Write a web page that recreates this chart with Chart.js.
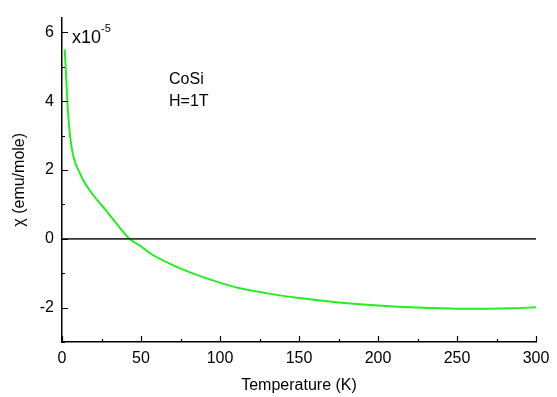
<!DOCTYPE html>
<html lang="en">
<head>
  <meta charset="UTF-8">
  <title>CoSi susceptibility</title>
  <script src="https://cdn.jsdelivr.net/npm/chart.js"></script>
  <style>
    html, body { margin: 0; padding: 0; background: #fff; }
    #wrap { width: 557px; height: 397px; }
  </style>
</head>
<body>
  <div id="wrap"><canvas id="myChart" width="557" height="397"></canvas></div>

  <script>
    // temperature (K) and chi (x10^-5 emu/mole)
    const temps = [1.7, 2.3, 3.4, 4.2, 5.1, 6.5, 8.2, 11.4, 13, 19.6, 28.3, 36.7, 42.6, 49.4, 55.7, 70.5, 91.6, 112.7, 135.9, 150, 175, 200, 225, 250, 270, 285, 300];
    const chi = [5.51, 5.0, 4.0, 3.45, 3.0, 2.55, 2.23, 1.9, 1.74, 1.28, 0.8, 0.32, 0.0, -0.2, -0.42, -0.77, -1.15, -1.44, -1.63, -1.72, -1.85, -1.94, -2.0, -2.03, -2.03, -2.02, -1.99];
    const zeroT = [0, 300];
    const zeroChi = [0, 0];

    const xTicks = [0, 25, 50, 75, 100, 125, 150, 175, 200, 225, 250, 275, 300];
    const xLabels = [0, 50, 100, 150, 200, 250, 300];
    const yTicks = [-3, -2, -1, 0, 1, 2, 3, 4, 5, 6];
    const yLabels = [-2, 0, 2, 4, 6];

    const FONT = 'Liberation Sans, Arial, sans-serif';

    // tick marks point into the plot, majors longer than minors
    const inwardTicks = {
      id: 'inwardTicks',
      afterDraw(chart) {
        const { ctx, chartArea: a, scales: { x, y } } = chart;
        ctx.save();
        ctx.strokeStyle = '#000';
        ctx.lineWidth = 1.2;
        ctx.beginPath();
        xTicks.forEach(v => {
          const px = Math.round(x.getPixelForValue(v)) + 0.5;
          const len = xLabels.includes(v) ? 6 : 3;
          ctx.moveTo(px, a.bottom);
          ctx.lineTo(px, a.bottom - len);
        });
        yTicks.forEach(v => {
          const py = Math.round(y.getPixelForValue(v)) + 0.5;
          const len = yLabels.includes(v) ? 6 : 3;
          ctx.moveTo(a.left, py);
          ctx.lineTo(a.left + len, py);
        });
        ctx.stroke();

        // annotations
        ctx.fillStyle = '#000';
        ctx.textBaseline = 'alphabetic';
        ctx.font = '18px ' + FONT;
        const y6 = y.getPixelForValue(6);
        ctx.fillText('x10', a.left + 10, y6 + 11);
        const w = ctx.measureText('x10').width;
        ctx.font = '11px ' + FONT;
        ctx.fillText('-5', a.left + 10 + w, y6 + 0);
        ctx.font = '16px ' + FONT;
        ctx.fillText('CoSi', 169, 84);
        ctx.fillText('H=1T', 169, 106);
        ctx.restore();
      }
    };

    const ctx = document.getElementById('myChart').getContext('2d');
    new Chart(ctx, {
      type: 'scatter',
      data: {
        datasets: [
          {
            label: 'zero',
            data: zeroT.map((t, i) => ({ x: t, y: zeroChi[i] })),
            showLine: true,
            borderColor: '#333',
            borderWidth: 1.8,
            pointRadius: 0
          },
          {
            label: 'CoSi',
            data: temps.map((t, i) => ({ x: t, y: chi[i] })),
            showLine: true,
            borderColor: '#22ee22',
            borderWidth: 2,
            pointRadius: 0,
            cubicInterpolationMode: 'monotone'
          }
        ]
      },
      options: {
        responsive: false,
        animation: false,
        layout: { padding: { left: 0, right: 21, top: 12, bottom: 0 } },
        plugins: {
          legend: { display: false },
          tooltip: { enabled: false }
        },
        scales: {
          x: {
            type: 'linear',
            min: 0,
            max: 300,
            grid: { display: false, drawTicks: false },
            border: { display: true, color: '#000', width: 1.5 },
            afterBuildTicks: s => { s.ticks = xTicks.map(v => ({ value: v })); },
            afterFit: s => { s.height = 55; },
            ticks: {
              autoSkip: false,
              maxRotation: 0,
              padding: 7,
              color: '#000',
              font: { family: FONT, size: 16 },
              callback: v => xLabels.includes(v) ? String(v) : ''
            },
            title: {
              display: true,
              text: 'Temperature (K)',
              color: '#000',
              font: { family: FONT, size: 16 },
              padding: { top: 0, bottom: 2 }
            }
          },
          y: {
            type: 'linear',
            min: -3,
            max: 6.43,
            grid: { display: false, drawTicks: false },
            border: { display: true, color: '#000', width: 1.5 },
            afterBuildTicks: s => { s.ticks = yTicks.map(v => ({ value: v })); },
            afterFit: s => { s.width = 62; },
            ticks: {
              autoSkip: false,
              padding: 8,
              color: '#000',
              font: { family: FONT, size: 16 },
              callback: v => yLabels.includes(v) ? String(v) : ''
            },
            title: {
              display: true,
              text: 'χ (emu/mole)',
              color: '#000',
              font: { family: FONT, size: 16 },
              padding: { top: 10, bottom: 0 }
            }
          }
        }
      },
      plugins: [inwardTicks]
    });
  </script>
</body>
</html>
